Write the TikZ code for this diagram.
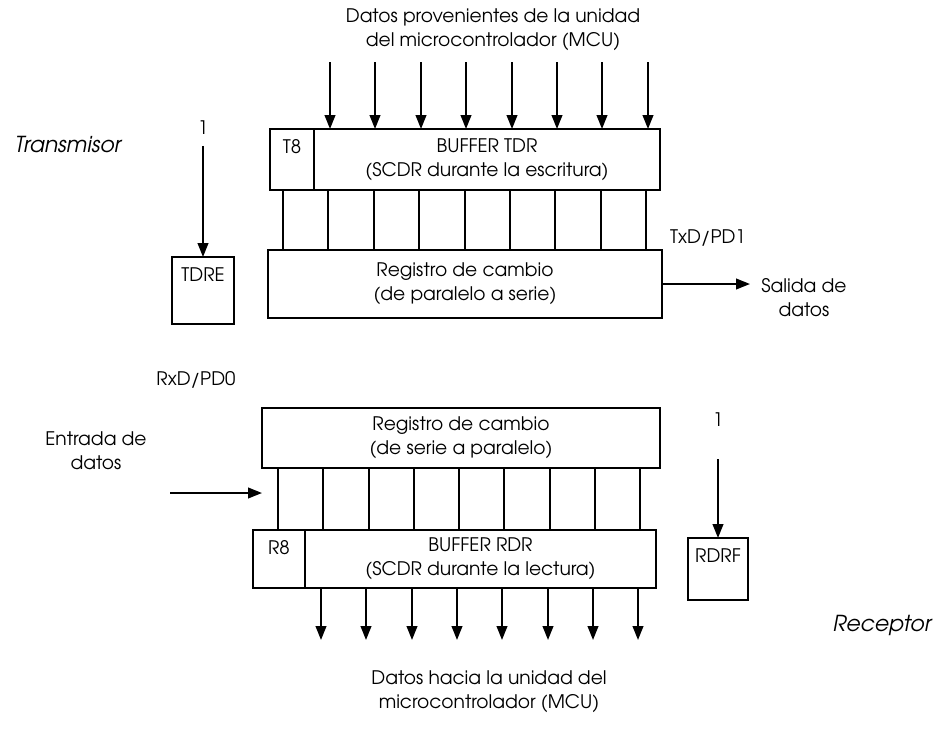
\documentclass[tikz,border=0pt]{standalone}
\usepackage{fontspec}
\setmainfont{texgyreadventor}[Extension=.otf, UprightFont=*-regular, ItalicFont=*-italic, BoldFont=*-bold]
\usetikzlibrary{arrows.meta}
\begin{document}
\begin{tikzpicture}[x=0.75pt,y=-0.75pt,
  font=\fontsize{14}{18}\selectfont,
  box/.style={draw, line width=1.5pt, rectangle, inner sep=0pt, outer sep=0pt, anchor=north west, align=center},
  flag/.style={draw, line width=1.5pt, rectangle, inner xsep=0pt, inner ysep=8pt, outer sep=0pt, anchor=north west, text height=10.3pt},
  wire/.style={line width=1.5pt},
  arr/.style={line width=1.5pt, -{Triangle[length=10.5pt,width=8pt]}},
  lbl/.style={align=center, inner sep=0pt},
  side/.style={inner sep=0pt, font=\fontsize{16.5}{20}\selectfont\itshape}]
\useasboundingbox (0,0) rectangle (940,736);
% ---------- transmitter ----------
\node[lbl] (topt) at (493,30) {Datos provenientes de la unidad\\del microcontrolador (MCU)};
\coordinate (topin) at (0,62);
\node[box, minimum width=259.5pt, minimum height=45.75pt] (tdr) at (314,129) {BUFFER TDR\\(SCDR durante la escritura)};
\node[flag, minimum width=33pt, minimum height=45.75pt, text depth=19.45pt] (t8) at (270,129) {T8};
\node[box, minimum width=295.5pt, minimum height=51pt] (txsr) at (268,250) {Registro de cambio\\(de paralelo a serie)};
\node[flag, minimum width=46.5pt, minimum height=50.25pt, text depth=23.95pt] (tdre) at (172,257) {TDRE};
\node[lbl] (one1) at (203,128) {1};
\node[side] (tx) at (68,145) {Transmisor};
\node[lbl] (txd) at (708,238) {TxD/PD1};
\node[lbl] (salida) at (804,298) {Salida de\\datos};
\coordinate (outend) at (750,284);
\foreach \i [evaluate=\i as \x using round(283+45.4*\i)] in {0,...,8}
  \draw[wire] (\x,0 |- tdr.south) -- (\x,0 |- txsr.north);
\foreach \i [evaluate=\i as \x using round(330+45.4*\i)] in {0,...,7}
  \draw[arr] (\x,0 |- topin) -- (\x,0 |- tdr.north);
\draw[arr] ([yshift=-8pt]one1.south) -- (tdre.north);
\draw[arr] (txsr.east) -- (outend |- txsr.east);
% ---------- receiver ----------
\node[lbl] (rxd) at (196,380) {RxD/PD0};
\node[box, minimum width=298.5pt, minimum height=45pt] (rxsr) at (262,408) {Registro de cambio\\(de serie a paralelo)};
\node[box, minimum width=263.25pt, minimum height=43.5pt] (rdr) at (305,530) {BUFFER RDR\\(SCDR durante la lectura)};
\node[flag, minimum width=39pt, minimum height=43.5pt, text depth=17.2pt] (r8) at (253,530) {R8};
\node[flag, minimum width=45pt, minimum height=46.5pt, text depth=20.2pt] (rdrf) at (688,538) {RDRF};
\node[lbl] (one2) at (718,420) {1};
\node[lbl] (entrada) at (96,451) {Entrada de\\datos};
\coordinate (inA) at (170,493);
\coordinate (inB) at (262,493);
\node[side] (rx) at (882,625) {Receptor};
\node[lbl] (bott) at (489,692) {Datos hacia la unidad del\\microcontrolador (MCU)};
\coordinate (botend) at (0,640);
\foreach \i [evaluate=\i as \x using round(278+45.25*\i)] in {0,...,8}
  \draw[wire] (\x,0 |- rxsr.south) -- (\x,0 |- rdr.north);
\foreach \i [evaluate=\i as \x using round(321+45.3*\i)] in {0,...,7}
  \draw[arr] (\x,0 |- rdr.south) -- (\x,0 |- botend);
\draw[arr] ([yshift=-24pt]one2.south) -- (rdrf.north);
\draw[arr] (inA) -- (inB);
\end{tikzpicture}
\end{document}
